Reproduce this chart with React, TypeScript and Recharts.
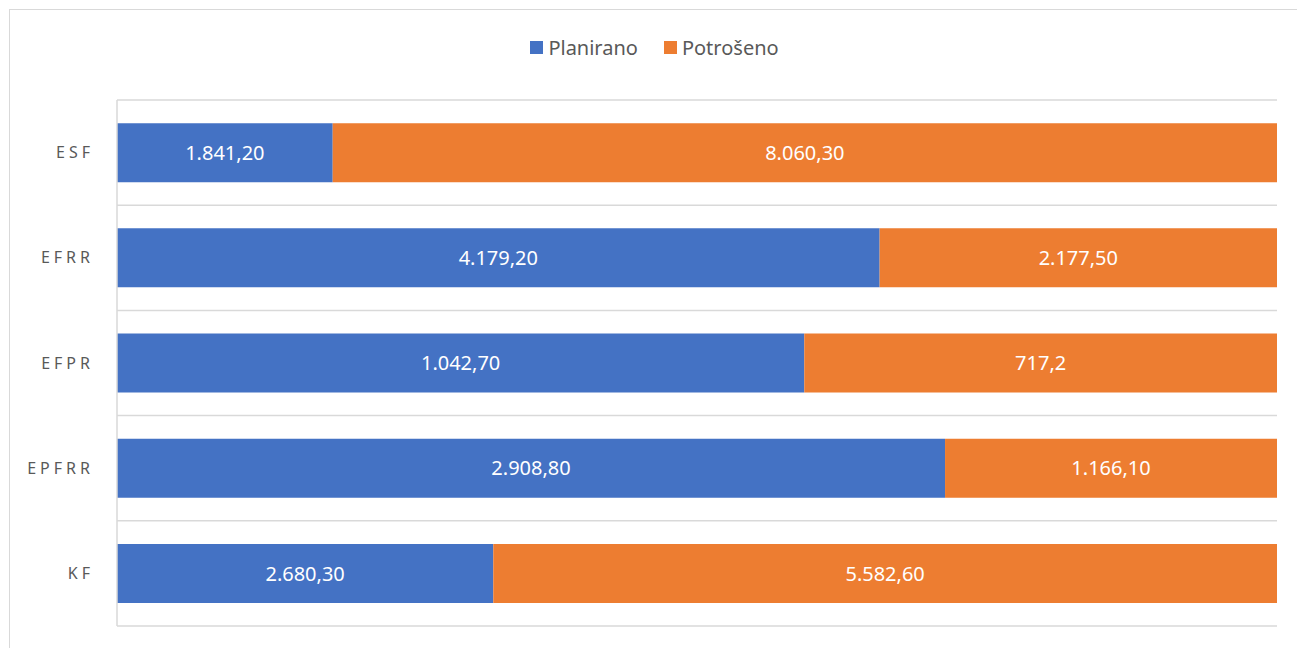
import { BarChart, Bar, XAxis, YAxis, CartesianGrid, Legend, LabelList } from 'recharts';

const categories = ['ESF', 'EFRR', 'EFPR', 'EPFRR', 'KF'];
const planirano = [1841.2, 4179.2, 1042.7, 2908.8, 2680.3];
const potroseno = [8060.3, 2177.5, 717.2, 1166.1, 5582.6];
const planiranoLabels = ['1.841,20', '4.179,20', '1.042,70', '2.908,80', '2.680,30'];
const potrosenoLabels = ['8.060,30', '2.177,50', '717,2', '1.166,10', '5.582,60'];

const data = categories.map((name, i) => ({
  name,
  planirano: planirano[i],
  potroseno: potroseno[i],
  planLabel: planiranoLabels[i],
  potrLabel: potrosenoLabels[i],
}));

const FONT = '"Noto Sans", "Open Sans", sans-serif';

// horizontal grid lines sit on the band boundaries, not on the ticks
const boundaryLines = ({ offset }: any) => {
  const out: number[] = [];
  for (let i = 0; i <= categories.length; i++) {
    out.push(offset.top + (i * offset.height) / categories.length);
  }
  return out;
};

const LegendContent = ({ payload }: any) => (
  <div style={{ height: 28, display: 'flex', justifyContent: 'center', alignItems: 'center' }}>
    {(payload || []).map((p: any, i: number) => (
      <div key={p.value} style={{ display: 'flex', alignItems: 'center', marginLeft: i > 0 ? 26 : 0 }}>
        <span style={{ width: 13, height: 13, background: p.color, display: 'inline-block', marginRight: 5 }} />
        <span style={{ color: '#595959', fontSize: 20, fontFamily: FONT }}>{p.value}</span>
      </div>
    ))}
  </div>
);

export default function App() {
  return (
    <div style={{ position: 'fixed', left: 0, top: 0, width: 1297, height: 648, overflow: 'hidden', background: '#fff' }}>
      <div
        style={{
          position: 'absolute',
          left: 9,
          top: 9,
          width: 1320,
          height: 700,
          border: '1px solid #d9d9d9',
          boxSizing: 'border-box',
        }}
      />
      <div style={{ position: 'absolute', left: 0, top: 0 }}>
        <BarChart
          width={1297}
          height={648}
          data={data}
          layout="vertical"
          stackOffset="expand"
          barCategoryGap="22%"
          margin={{ top: 72, right: 20, bottom: 22, left: 0 }}
          style={{ fontFamily: FONT }}
        >
          <CartesianGrid
            vertical={false}
            stroke="#d9d9d9"
            strokeWidth={1.5}
            horizontalCoordinatesGenerator={boundaryLines}
          />
          <XAxis type="number" hide domain={[0, 1]} />
          <YAxis
            type="category"
            dataKey="name"
            width={117}
            tickLine={false}
            axisLine={{ stroke: '#d9d9d9', strokeWidth: 1.5 }}
            tickMargin={17}
            tick={{ fill: '#595959', fontSize: 16, letterSpacing: 4 }}
          />
          <Legend
            verticalAlign="top"
            align="center"
            content={<LegendContent />}
            wrapperStyle={{ top: 33, left: 16 }}
          />
          <Bar dataKey="planirano" name="Planirano" stackId="a" fill="#4472C4" isAnimationActive={false}>
            <LabelList dataKey="planLabel" position="center" fill="#ffffff" fontSize={20} />
          </Bar>
          <Bar dataKey="potroseno" name="Potrošeno" stackId="a" fill="#ED7D31" isAnimationActive={false}>
            <LabelList dataKey="potrLabel" position="center" fill="#ffffff" fontSize={20} />
          </Bar>
        </BarChart>
      </div>
    </div>
  );
}
